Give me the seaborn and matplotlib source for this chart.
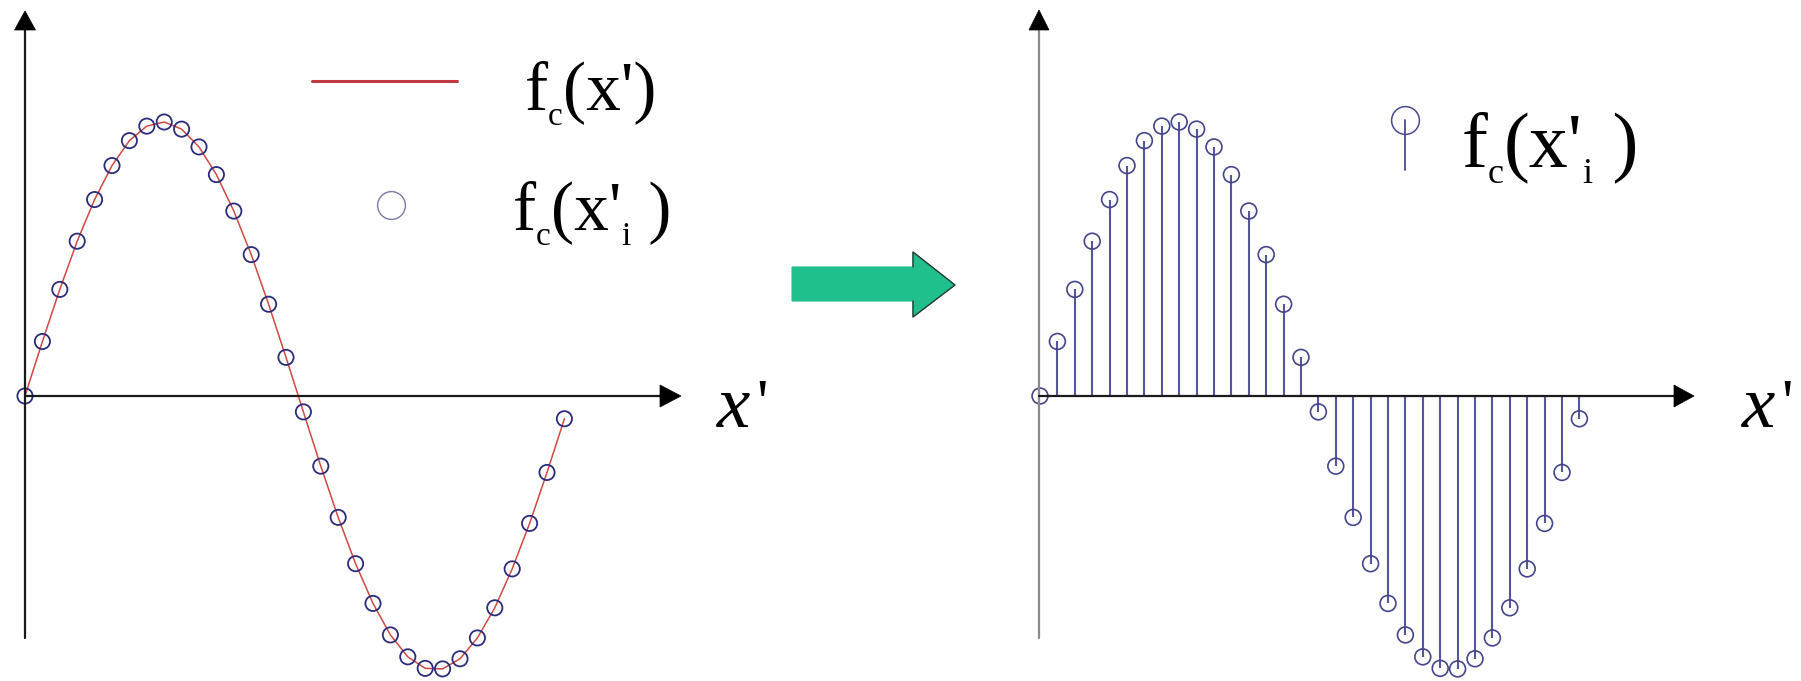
import matplotlib
matplotlib.use("Agg")
import matplotlib.pyplot as plt
from matplotlib.patches import Polygon
from matplotlib.lines import Line2D
import seaborn as sns

# Sample positions x'_i and the sampled function values f_c(x'_i)
x_samples = [0.0, 0.2, 0.4, 0.6, 0.8, 1.0, 1.2, 1.4, 1.6, 1.8, 2.0, 2.2, 2.4, 2.6, 2.8, 3.0,
             3.2, 3.4, 3.6, 3.8, 4.0, 4.2, 4.4, 4.6, 4.8, 5.0, 5.2, 5.4, 5.6, 5.8, 6.0, 6.2]
f_samples = [0.000, 0.199, 0.389, 0.565, 0.717, 0.841, 0.932, 0.985, 1.000, 0.974, 0.909,
             0.808, 0.675, 0.516, 0.335, 0.141, -0.058, -0.256, -0.443, -0.612, -0.757,
             -0.872, -0.952, -0.994, -0.996, -0.959, -0.883, -0.773, -0.631, -0.465,
             -0.279, -0.083]

axis_label = "x"
sub_c = "c"
sub_i = "i"

sns.set_theme(style="white")
plt.rcParams['font.family'] = ['Liberation Serif', 'DejaVu Serif']

W, H = 1801, 681
fig = plt.figure(figsize=(W / 100, H / 100), dpi=100)
fig.patch.set_facecolor("white")
renderer = fig.canvas.get_renderer()


def fx(px):
    return px / W


def fy(py):
    return 1 - py / H


X_SCALE, Y_SCALE = 87.0, 274.0   # pixels per data unit
AXIS_Y = 396                     # pixel row of the horizontal axis


def make_panel(left_px, width_px, origin_px):
    ax = fig.add_axes([fx(left_px), 0, width_px / W, 1])
    return ax, ((-(origin_px - left_px) / X_SCALE, (left_px + width_px - origin_px) / X_SCALE),
                (-(H - AXIS_Y) / Y_SCALE, AXIS_Y / Y_SCALE))


def finish_panel(ax, lims):
    ax.set_xlim(*lims[0])
    ax.set_ylim(*lims[1])
    ax.set_axis_off()
    if ax.get_legend() is not None:
        ax.get_legend().remove()


def axis_arrow(x0, y0, x1, y1, head_len, head_w, line_color="#1a1a1a", head_color="black", lw=1.6):
    dx, dy = x1 - x0, y1 - y0
    n = (dx ** 2 + dy ** 2) ** 0.5
    ux, uy = dx / n, dy / n
    bx, by = x1 - ux * head_len, y1 - uy * head_len
    px_, py_ = -uy, ux
    fig.add_artist(Line2D([fx(x0), fx(bx + ux)], [fy(y0), fy(by + uy)],
                          color=line_color, lw=lw, transform=fig.transFigure, zorder=5))
    tri = [(fx(x1), fy(y1)),
           (fx(bx + px_ * head_w / 2), fy(by + py_ * head_w / 2)),
           (fx(bx - px_ * head_w / 2), fy(by - py_ * head_w / 2))]
    fig.add_artist(Polygon(tri, closed=True, facecolor=head_color, edgecolor=head_color,
                           lw=0.5, transform=fig.transFigure, zorder=6))


def run_text(x_px, base_px, pieces, color="black"):
    x = x_px
    for s, size, drop, style in pieces:
        t = fig.text(fx(x), fy(base_px + drop), s, fontsize=size, va="baseline", ha="left",
                     color=color, family="Liberation Serif", style=style)
        x += t.get_window_extent(renderer).width
    return x


# ---------------- left panel: continuous function with its samples ----------------
axL, limsL = make_panel(0, 700, 25)
sns.lineplot(x=x_samples, y=f_samples, ax=axL, color="#cf4a44", lw=1.1, sort=False,
             estimator=None, zorder=3)
sns.scatterplot(x=x_samples, y=f_samples, ax=axL, marker="o", s=120, zorder=4)
ptsL = axL.collections[-1]
ptsL.set_facecolor("none")
ptsL.set_edgecolor("#2c2c7c")
ptsL.set_linewidth(1.3)
finish_panel(axL, limsL)

axis_arrow(25, 638, 25, 11, 19, 21)
axis_arrow(25, 396, 681, 396, 21, 22)

# ---------------- right panel: stem plot of the samples ----------------
axR, limsR = make_panel(1000, 801, 1040)
axR.vlines(x_samples, 0, f_samples, colors="#55559e", lw=1.5, zorder=3)
sns.scatterplot(x=x_samples, y=f_samples, ax=axR, marker="o", s=130, zorder=4)
ptsR = axR.collections[-1]
ptsR.set_facecolor("none")
ptsR.set_edgecolor("#45458c")
ptsR.set_linewidth(1.2)
finish_panel(axR, limsR)

axis_arrow(1039, 638, 1039, 10, 20, 20, line_color="#8a8a8a")
axis_arrow(1039, 396, 1694, 396, 20, 22)

# ---------------- axis labels x' ----------------
for x0 in (717, 1742):
    xe = run_text(x0, 427, [(axis_label, 54, 0, "italic")])
    run_text(xe + 6, 427, [("'", 46, -4, "normal")])

# ---------------- legends ----------------
fig.add_artist(Line2D([fx(312), fx(457)], [fy(81), fy(81)], color="#c03a44", lw=2.2,
                      transform=fig.transFigure))
fig.add_artist(Line2D([fx(391)], [fy(205)], marker="o", markersize=20, markerfacecolor="none",
                      markeredgecolor="#7a7aa6", markeredgewidth=1.0, transform=fig.transFigure))
run_text(525, 110, [("f", 50, 0, "normal"), (sub_c, 24, 15, "normal"), ("(x')", 50, 0, "normal")])
run_text(513, 230, [("f", 50, 0, "normal"), (sub_c, 24, 15, "normal"), ("(x'", 50, 0, "normal"),
                    (sub_i, 24, 15, "normal"), (" )", 50, 0, "normal")])

fig.add_artist(Line2D([fx(1405), fx(1405)], [fy(120), fy(170)], color="#4a4a90", lw=1.3,
                      transform=fig.transFigure))
fig.add_artist(Line2D([fx(1405)], [fy(120)], marker="o", markersize=20, markerfacecolor="none",
                      markeredgecolor="#4a4a90", markeredgewidth=1.1, transform=fig.transFigure))
run_text(1462, 167, [("f", 56, 0, "normal"), (sub_c, 26, 16, "normal"), ("(x'", 56, 0, "normal"),
                     (sub_i, 26, 16, "normal"), (" )", 56, 0, "normal")])

# ---------------- green transition arrow ----------------
arrow_pts = [(792, 267), (913, 267), (913, 252), (955, 285), (913, 317), (913, 301), (792, 301)]
fig.add_artist(Polygon([(fx(a), fy(b)) for a, b in arrow_pts], closed=True,
                       facecolor="#20c08e", edgecolor="#20c08e", lw=0.8,
                       transform=fig.transFigure))
head = [(913, 267), (913, 252), (955, 285), (913, 317), (913, 301)]
fig.add_artist(Line2D([fx(a) for a, b in head], [fy(b) for a, b in head], color="#2a3a34",
                      lw=1.0, transform=fig.transFigure))

fig.savefig("out.png", dpi=100, facecolor="white")
